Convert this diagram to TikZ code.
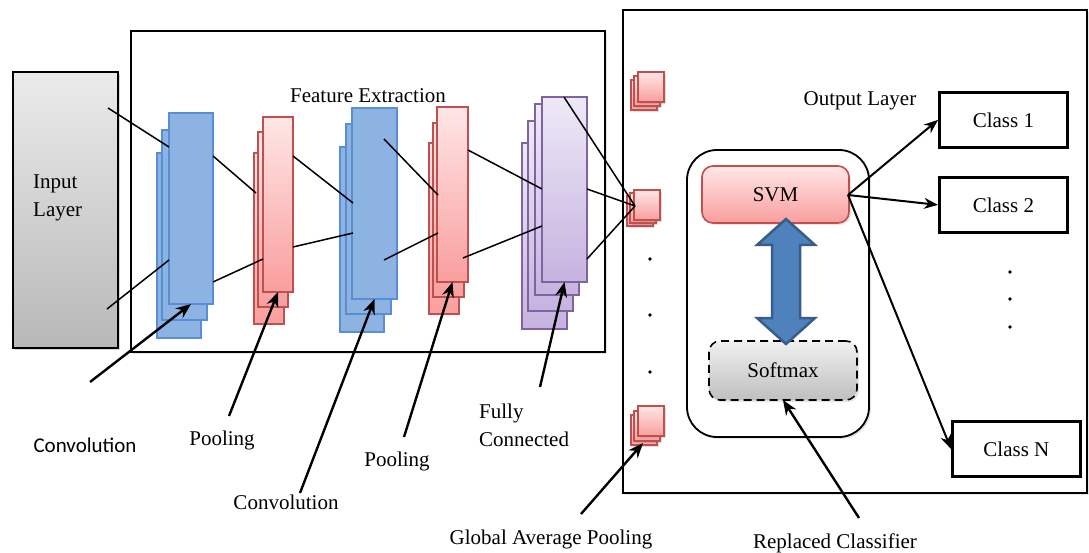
\documentclass[tikz,border=0pt]{standalone}
\usepackage{fontspec}
\setmainfont{Liberation Serif}
\newfontfamily\calibrifont{Carlito}
\usetikzlibrary{arrows.meta,shadows}
\definecolor{bluefill}{HTML}{8DB3E2}
\definecolor{bluedraw}{HTML}{5A8ED3}
\definecolor{pinktop}{HTML}{FFE6E6}
\definecolor{pinkbot}{HTML}{F99E9E}
\definecolor{reddraw}{HTML}{C0504D}
\definecolor{purptop}{HTML}{EEE9F7}
\definecolor{purpbot}{HTML}{C6B3E0}
\definecolor{purpdraw}{HTML}{8064A2}
\definecolor{arrfill}{HTML}{4F81BD}
\definecolor{arrdraw}{HTML}{385D8A}
\tikzset{
  lbl/.style={font=\fontsize{21}{28}\selectfont, inner sep=0pt},
  layerbox/.style={anchor=north west, inner sep=0pt, outer sep=0pt},
  bluelayer/.style={layerbox, fill=bluefill, draw=bluedraw, line width=1.6pt},
  pinklayer/.style={layerbox, top color=pinktop, bottom color=pinkbot, draw=reddraw, line width=1.6pt},
  purplayer/.style={layerbox, top color=purptop, bottom color=purpbot, draw=purpdraw, line width=1.6pt},
  sq/.style={layerbox, top color=pinktop, bottom color=pinkbot, draw=reddraw, line width=1.6pt, minimum width=26pt, minimum height=30pt,
    drop shadow={shadow xshift=1.5pt, shadow yshift=-2pt, opacity=0.25}},
  thin/.style={line width=1.5pt},
  pointer/.style={line width=2.4pt, -{Stealth[length=15pt,width=12pt]}},
  classarrow/.style={line width=2pt, -{Stealth[length=14pt,width=11pt]}},
  classbox/.style={draw, line width=2.8pt, minimum width=128pt, minimum height=55pt, inner sep=0pt, font=\fontsize{21}{25}\selectfont},
}
\begin{document}
\begin{tikzpicture}[x=1pt,y=-1pt]
\useasboundingbox (0,0) rectangle (1089,553);
% ---------- frames ----------
\node[layerbox, draw, line width=2pt, minimum width=474pt, minimum height=321pt,
  drop shadow={shadow xshift=2pt, shadow yshift=-2pt, opacity=0.2}, fill=white] (fe) at (131,31) {};
\node[layerbox, draw, line width=2pt, minimum width=464pt, minimum height=483pt,
  drop shadow={shadow xshift=2pt, shadow yshift=-2pt, opacity=0.2}, fill=white] (out) at (623,10) {};
% ---------- input layer ----------
\node[layerbox, draw, line width=2pt, top color=black!8, bottom color=black!28, minimum width=105pt, minimum height=276pt,
  drop shadow={shadow xshift=2pt, shadow yshift=-2pt, opacity=0.3}] (inp) at (13,72) {};
\node[lbl, align=left, anchor=west] (inptxt) at (33,198) {Input\\Layer};
\node[lbl] (fetxt) at (368,96) {Feature Extraction};
% ---------- conv1 ----------
\node[bluelayer, minimum width=44pt, minimum height=185pt] (c1c) at (157,153) {};
\node[bluelayer, minimum width=45pt, minimum height=190pt] (c1b) at (162,130) {};
\node[bluelayer, minimum width=44pt, minimum height=191pt] (c1) at (169,113) {};
% ---------- pool1 ----------
\node[pinklayer, minimum width=30pt, minimum height=171pt] (p1c) at (254,153) {};
\node[pinklayer, minimum width=30pt, minimum height=175pt] (p1b) at (258,132) {};
\node[pinklayer, minimum width=30pt, minimum height=175pt] (p1) at (263,117) {};
% ---------- conv2 ----------
\node[bluelayer, minimum width=44pt, minimum height=185pt] (c2c) at (340,147) {};
\node[bluelayer, minimum width=45pt, minimum height=190pt] (c2b) at (346,124) {};
\node[bluelayer, minimum width=45pt, minimum height=191pt] (c2) at (352,108) {};
% ---------- pool2 ----------
\node[pinklayer, minimum width=30pt, minimum height=171pt] (p2c) at (429,143) {};
\node[pinklayer, minimum width=31pt, minimum height=174pt] (p2b) at (433,123) {};
\node[pinklayer, minimum width=31pt, minimum height=175pt] (p2) at (437,107) {};
% ---------- fully connected ----------
\node[purplayer, minimum width=45pt, minimum height=186pt] (fcd) at (522,143) {};
\node[purplayer, minimum width=45pt, minimum height=190pt] (fcc) at (528,121) {};
\node[purplayer, minimum width=44pt, minimum height=191pt] (fcb) at (535,104) {};
\node[purplayer, minimum width=45pt, minimum height=185pt] (fc) at (542,97) {};
% ---------- GAP squares ----------
\node[sq] (g1c) at (631,80) {};
\node[sq] (g1b) at (634,76) {};
\node[sq] (g1) at (638,72) {};
\node[sq] (g2c) at (627,196) {};
\node[sq] (g2b) at (630,193) {};
\node[sq] (g2) at (634,190) {};
\node[sq] (g3c) at (631,415) {};
\node[sq] (g3b) at (634,411) {};
\node[sq] (g3) at (638,406) {};
\node[circle, fill, inner sep=1.3pt] (d1) at (650,259) {};
\node[circle, fill, inner sep=1.3pt] (d2) at (650,315) {};
\node[circle, fill, inner sep=1.3pt] (d3) at (650,372) {};
% ---------- internal lines ----------
\coordinate (a1) at (108,108); \coordinate (a2) at (169,147);
\coordinate (a3) at (107,309); \coordinate (a4) at (169,260);
\coordinate (b1) at (213,156); \coordinate (b2) at (256,193);
\coordinate (b3) at (213,282); \coordinate (b4) at (263,259);
\coordinate (e1) at (293,156); \coordinate (e2) at (353,203);
\coordinate (e3) at (293,247); \coordinate (e4) at (353,233);
\coordinate (f1) at (384,139); \coordinate (f2) at (438,195);
\coordinate (f3) at (384,260); \coordinate (f4) at (438,233);
\coordinate (h1) at (468,150); \coordinate (h2) at (542,189);
\coordinate (h3) at (463,258); \coordinate (h4) at (542,226);
\coordinate (k1) at (564,97); \coordinate (k2) at (587,189); \coordinate (k3) at (587,259);
\coordinate (gin) at (635,206);
\draw[thin] (a1) -- (a2) (a3) -- (a4) (b1) -- (b2) (b3) -- (b4)
  (e1) -- (e2) (e3) -- (e4) (f1) -- (f2) (f3) -- (f4)
  (h1) -- (h2) (h3) -- (h4) (k1) -- (gin) (k2) -- (gin) (k3) -- (gin);
% ---------- classifier ----------
\node[layerbox, draw, line width=1.8pt, rounded corners=30pt, minimum width=182pt, minimum height=287pt, fill=white,
  drop shadow={shadow xshift=2pt, shadow yshift=-2pt, opacity=0.2}] (rc) at (687,150) {};
\node[layerbox, rounded corners=11pt, top color=pinktop, bottom color=pinkbot, draw=reddraw, line width=1.6pt,
  minimum width=147pt, minimum height=57pt, drop shadow={shadow xshift=2pt, shadow yshift=-2pt, opacity=0.2}] (svm) at (702,166) {};
\node[lbl] (svmtxt) at (svm.center) {SVM};
\node[layerbox, rounded corners=11pt, top color=black!6, bottom color=black!25, draw, dashed, dash pattern=on 8pt off 5pt, line width=1.6pt,
  minimum width=148pt, minimum height=59pt, drop shadow={shadow xshift=2pt, shadow yshift=-2pt, opacity=0.2}] (soft) at (709,341) {};
\node[lbl] (softtxt) at (soft.center) {Softmax};
\draw[fill=arrfill, draw=arrdraw, line width=2.5pt, line join=miter]
  (786,219) -- (815,245) -- (800,245) -- (800,318) -- (815,318) -- (786,344) -- (757,318) -- (772,318) -- (772,245) -- (757,245) -- cycle;
% ---------- output ----------
\node[lbl] (outtxt) at (860,101) {Output Layer};
\node[classbox, anchor=north west] (cl1) at (938,91) {Class 1};
\node[classbox, anchor=north west] (cl2) at (938,176) {Class 2};
\node[classbox, anchor=north west] (cln) at (951,420) {Class N};
\node[circle, fill, inner sep=1.3pt] (e5) at (1010,272) {};
\node[circle, fill, inner sep=1.3pt] (e6) at (1010,299) {};
\node[circle, fill, inner sep=1.3pt] (e7) at (1010,327) {};
\coordinate (svmout) at (848,195);
\draw[classarrow] (svmout) -- (cl1.west);
\draw[classarrow] (svmout) -- (cl2.west);
\draw[classarrow] (svmout) -- (cln.west);
% ---------- labels ----------
\node[lbl, font=\calibrifont\fontsize{21}{28}\selectfont] (lconv1) at (85,445) {Convolution};
\node[lbl] (lpool1) at (222,440) {Pooling};
\node[lbl] (lconv2) at (286,502) {Convolution};
\node[lbl] (lpool2) at (397,461) {Pooling};
\node[lbl, align=left, anchor=west] (lfc) at (479,425) {Fully\\Connected};
\node[lbl] (lgap) at (551,539) {Global Average Pooling};
\node[lbl] (lrep) at (835,543) {Replaced Classifier};
\coordinate (s1) at (90,382);
\coordinate (s2) at (229,416);
\coordinate (s3) at (300,493);
\coordinate (s4) at (404,437);
\coordinate (s5) at (540,387);
\coordinate (s6) at (581,514);
\coordinate (s7) at (859,518);
\coordinate (t6) at (643,443);
\draw[pointer] (s1) -- (c1.south);
\draw[pointer] (s2) -- (p1.south);
\draw[pointer] (s3) -- (c2.south);
\draw[pointer] (s4) -- (p2.south);
\draw[pointer] (s5) -- (fc.south);
\draw[pointer] (s6) -- (t6);
\draw[pointer] (s7) -- (soft.south);
\end{tikzpicture}
\end{document}
